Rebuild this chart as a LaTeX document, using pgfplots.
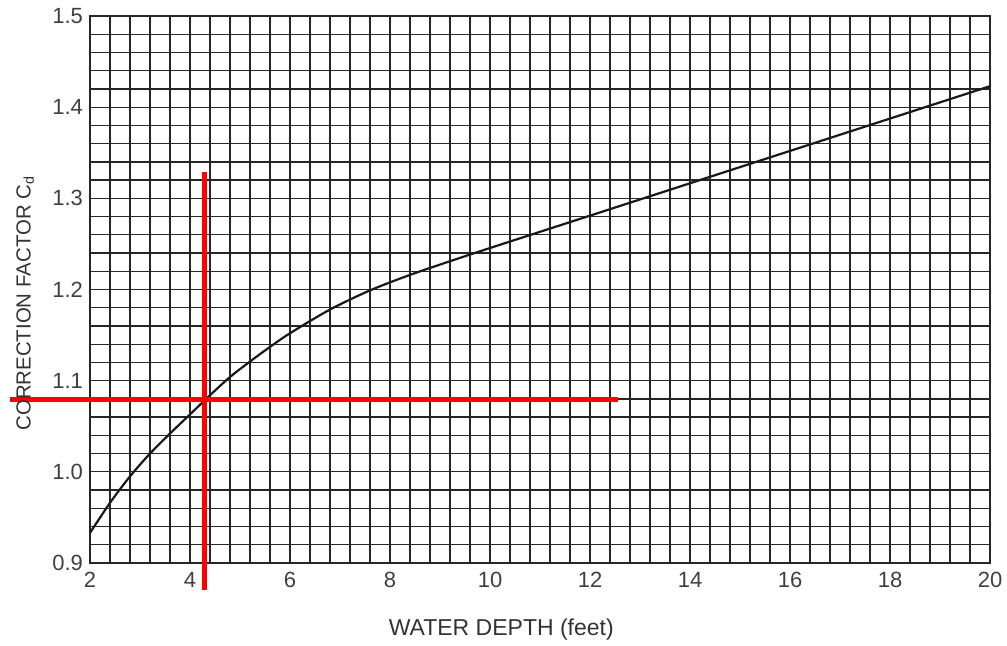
\documentclass[border=0pt]{standalone}
\usepackage{pgfplots}
\pgfplotsset{compat=1.18}
\usepackage{fontspec}
\setmainfont{Liberation Sans}
\begin{document}
\begin{tikzpicture}
\useasboundingbox (0,0) rectangle (503.5pt,323pt);
\begin{axis}[
  at={(45pt,41.5pt)}, anchor=south west,
  scale only axis, width=450pt, height=273.5pt,
  xmin=2, xmax=20, ymin=0.9, ymax=1.5,
  xtick={2,4,...,20}, ytick={0.9,1.0,1.1,1.2,1.3,1.4,1.5},
  yticklabels={0.9,1.0,1.1,1.2,1.3,1.4,1.5},
  minor x tick num=4, minor y tick num=4,
  grid=both,
  major grid style={black!85, line width=0.65pt},
  minor grid style={black!85, line width=0.65pt},
  axis line style={black!85, line width=0.8pt},
  major tick length=0pt, minor tick length=0pt,
  tick label style={font=\fontsize{11}{13}\selectfont, text=black!75},
  /pgf/number format/assume math mode=true,
  xticklabel style={yshift=-1pt},
  yticklabel style={xshift=0pt},
  clip=false,
  xlabel={WATER DEPTH (feet)},
  ylabel={CORRECTION FACTOR C$_{\mathrm{d}}$},
  xlabel style={at={(axis description cs:0.457,-0.1225)}, anchor=center, font=\fontsize{11.5}{13}\selectfont, text=black!80},
  ylabel style={at={(axis description cs:-0.072,0.475)}, anchor=center, rotate=0, font=\fontsize{10.2}{12}\selectfont, text=black!80},
]
\addplot[black!90, line width=1.1pt, smooth] coordinates {
(2,0.933) (2.4,0.966) (2.8,0.995) (3.2,1.020) (3.6,1.042) (4.0,1.063)
(4.4,1.084) (4.8,1.104) (5.2,1.121) (5.6,1.137) (6.0,1.152) (6.8,1.178)
(7.6,1.199) (8.4,1.216) (9.2,1.231) (10.0,1.2455) (12.0,1.281)
(14.0,1.3165) (16.0,1.352) (18.0,1.3875) (20.0,1.423)
};
\addplot[red, line width=2.5pt] coordinates {(4.28,1.329) (4.28,0.870)};
\addplot[red, line width=2.5pt] coordinates {(0.4,1.079) (12.56,1.079)};
\end{axis}
\end{tikzpicture}
\end{document}
